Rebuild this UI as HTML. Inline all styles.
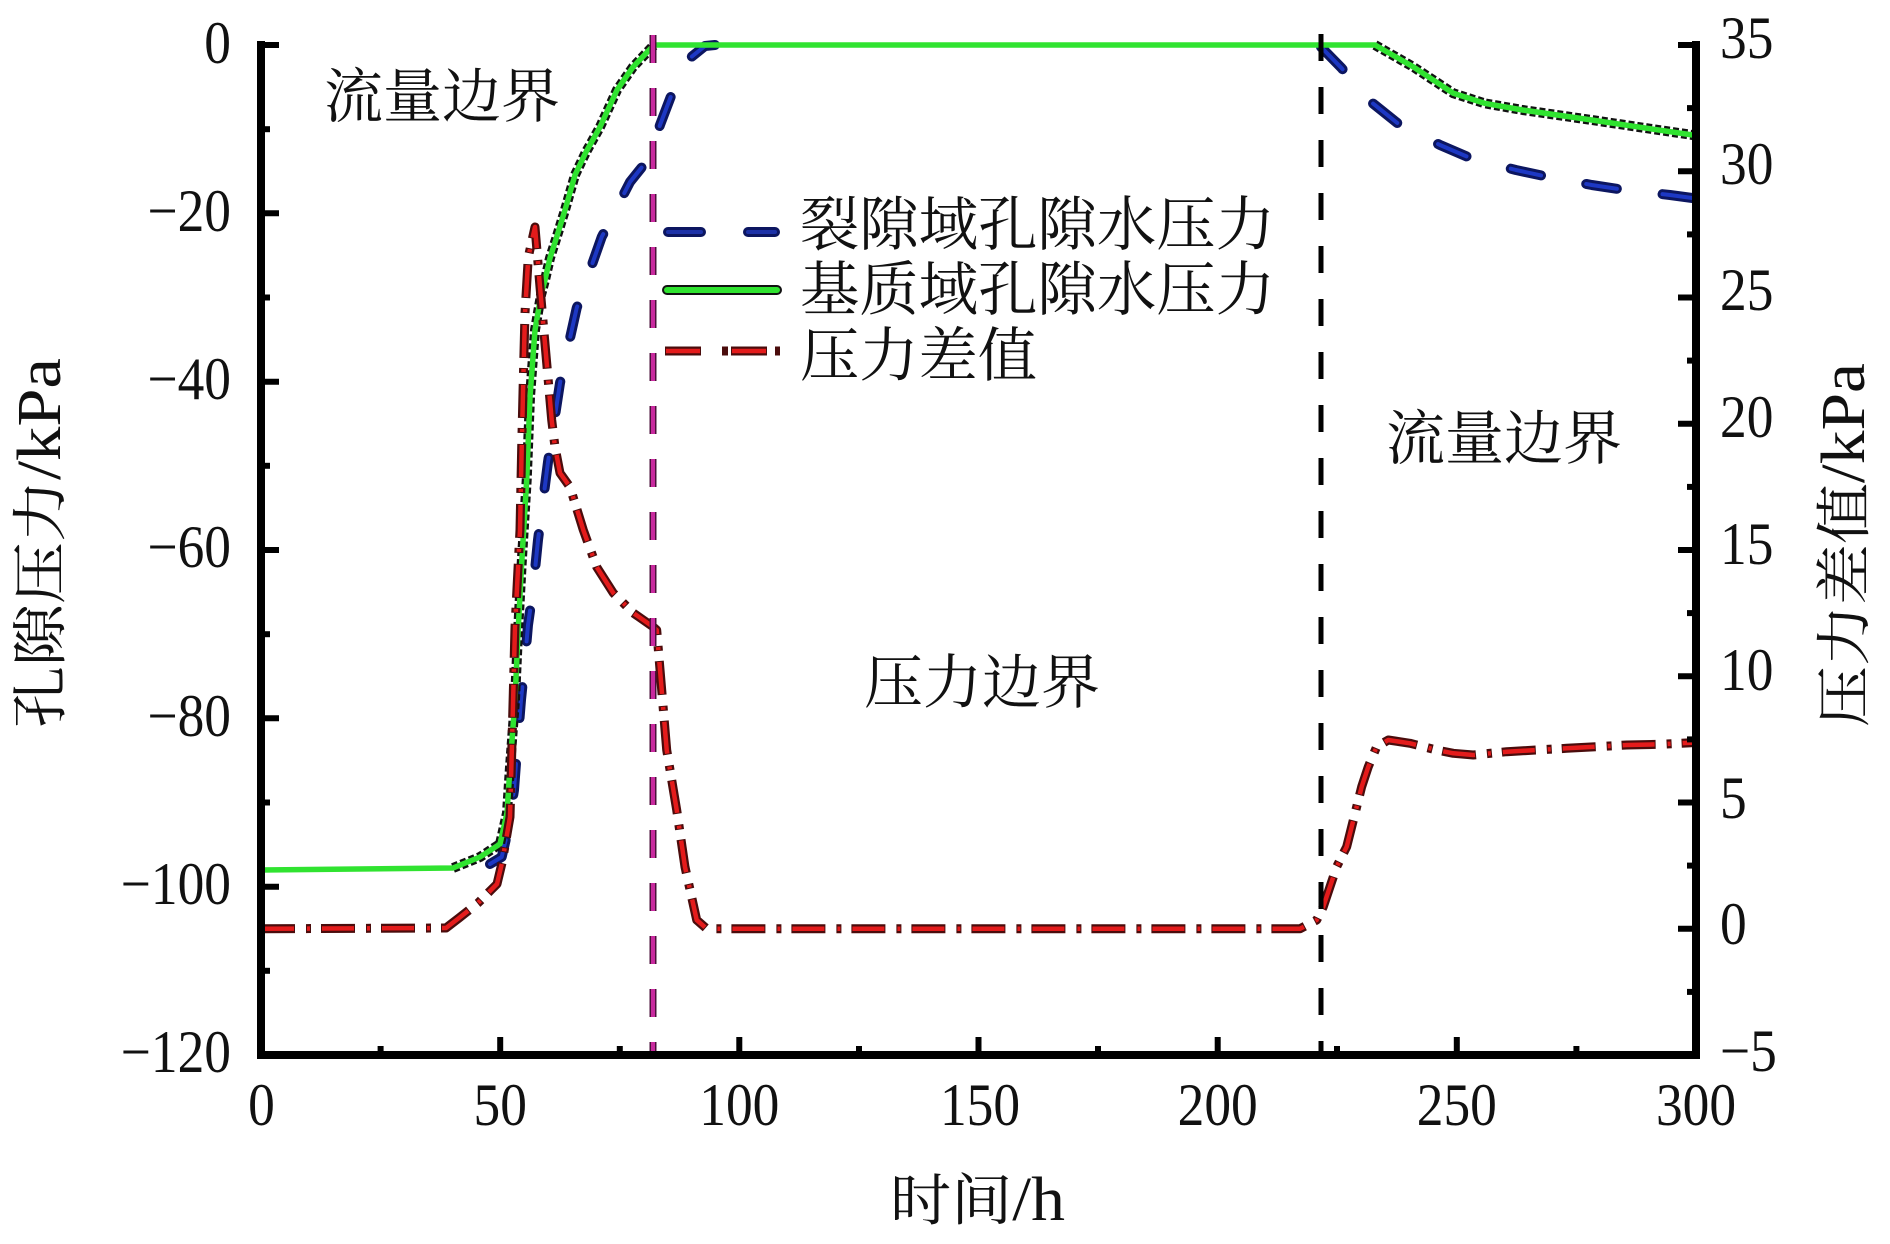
<!DOCTYPE html>
<html>
<head>
<meta charset="utf-8">
<style>
html,body{margin:0;padding:0;background:#fff;}
svg{display:block;}
.num{font-family:"Liberation Serif","Times New Roman",serif;font-size:60px;fill:#111;}
.cjk{font-family:"Liberation Serif","Noto Serif CJK SC","Noto Sans CJK SC",serif;fill:#111;}
</style>
</head>
<body>
<svg width="1890" height="1244" viewBox="0 0 1890 1244" xmlns="http://www.w3.org/2000/svg">
<rect x="0" y="0" width="1890" height="1244" fill="#fff"/>

<!-- Blue series (fracture) -->
<g fill="none" stroke-linecap="round" stroke-linejoin="round">
  <path d="M490,864 L501.7,857 L508,830 L514,790 L517,750 L521,700 L525,660 L528,625 L533,590 L538,540 L548,462 L560,383 L576.7,308 L601.7,237 L630,182 L650,157 L660,125 L676,83 L690,58 L705,46 L715,45" stroke="#0c1660" stroke-width="10" stroke-dasharray="31 46"/>
  <path d="M490,864 L501.7,857 L508,830 L514,790 L517,750 L521,700 L525,660 L528,625 L533,590 L538,540 L548,462 L560,383 L576.7,308 L601.7,237 L630,182 L650,157 L660,125 L676,83 L690,58 L705,46 L715,45" stroke="#1d38c4" stroke-width="4" stroke-dasharray="31 46"/>
  <path d="M1321,47 L1341.8,68.3 L1368.6,100 L1399.8,125 L1440,145 L1471,158.3 L1515.9,170 L1547,176.7 L1591.8,185 L1625,190 L1670,195 L1696,198.5" stroke="#0c1660" stroke-width="10" stroke-dasharray="31 46"/>
  <path d="M1321,47 L1341.8,68.3 L1368.6,100 L1399.8,125 L1440,145 L1471,158.3 L1515.9,170 L1547,176.7 L1591.8,185 L1625,190 L1670,195 L1696,198.5" stroke="#1d38c4" stroke-width="4" stroke-dasharray="31 46"/>
</g>

<!-- Green series (matrix) -->
<g fill="none" stroke-linejoin="round">
  <path d="M453,868 L480,857 L500,844 L507,813 L510,767 L515,700 L518,633 L521.7,563 L526.7,480 L530,397 L535,330 L541,295 L545,280 L550,258 L557,236 L565,210 L575,175 L586,152 L600,127 L617,90 L633,67 L653,46 L655,45" stroke="#111" stroke-width="10" stroke-dasharray="6 3"/>
  <path d="M1375,45 L1413,66.7 L1453.4,93.3 L1484.6,103.3 L1522.6,110 L1591.8,120 L1636.4,126.7 L1696,135.5" stroke="#111" stroke-width="10" stroke-dasharray="6 3"/>
  <path d="M261,870 L453,868 L480,857 L500,844 L507,813 L510,767 L515,700 L518,633 L521.7,563 L526.7,480 L530,397 L535,330 L541,295 L545,280 L550,258 L557,236 L565,210 L575,175 L586,152 L600,127 L617,90 L633,67 L653,46 L655,45 L1375,45 L1413,66.7 L1453.4,93.3 L1484.6,103.3 L1522.6,110 L1591.8,120 L1636.4,126.7 L1696,135.5" stroke="#30e330" stroke-width="5.5"/>
</g>

<!-- Red series (difference) -->
<g fill="none" stroke-linejoin="round">
  <path d="M261,928.75 L446,928 L459,918 L478,903 L491,890 L497,884 L502,863 L510,817 L512,743 L513.3,693 L515,627 L520,530 L521.7,447 L523.3,380 L525,313 L528.3,257 L535,227 L540,287 L546.7,363 L551.7,420 L555,447 L560,473 L570,487 L583.3,530 L596.7,567 L613.3,593 L633.3,613 L653.3,627 L656.7,630 L661.7,690 L666.7,750 L676.7,810 L685,867 L696.7,920 L706.7,928.75 L1300,928.75 L1316.7,920 L1323.3,906.7 L1336.7,866.7 L1346.7,846.7 L1356.7,806.7 L1361.7,786.7 L1368.3,766.7 L1376.7,746.7 L1388.3,740 L1410,743.3 L1436.7,750 L1453.3,753.3 L1473.3,755 L1506.7,751.7 L1536.7,750 L1566.7,748.3 L1596.7,746.7 L1626.7,745 L1660,744.3 L1696,742.5" stroke="#4a0c0c" stroke-width="9" stroke-dasharray="34 11 5 10"/>
  <path d="M261,928.75 L446,928 L459,918 L478,903 L491,890 L497,884 L502,863 L510,817 L512,743 L513.3,693 L515,627 L520,530 L521.7,447 L523.3,380 L525,313 L528.3,257 L535,227 L540,287 L546.7,363 L551.7,420 L555,447 L560,473 L570,487 L583.3,530 L596.7,567 L613.3,593 L633.3,613 L653.3,627 L656.7,630 L661.7,690 L666.7,750 L676.7,810 L685,867 L696.7,920 L706.7,928.75 L1300,928.75 L1316.7,920 L1323.3,906.7 L1336.7,866.7 L1346.7,846.7 L1356.7,806.7 L1361.7,786.7 L1368.3,766.7 L1376.7,746.7 L1388.3,740 L1410,743.3 L1436.7,750 L1453.3,753.3 L1473.3,755 L1506.7,751.7 L1536.7,750 L1566.7,748.3 L1596.7,746.7 L1626.7,745 L1660,744.3 L1696,742.5" stroke="#e41b1b" stroke-width="4.5" stroke-dasharray="32 13 3 12" stroke-dashoffset="-1"/>
</g>

<!-- Vertical boundary lines -->
<line x1="653" y1="35" x2="653" y2="1054" stroke="#4a0f3a" stroke-width="7" stroke-dasharray="28 25"/>
<line x1="653" y1="35" x2="653" y2="1054" stroke="#c82a9e" stroke-width="4" stroke-dasharray="28 25"/>
<line x1="1321" y1="34" x2="1321" y2="1054" stroke="#000" stroke-width="5" stroke-dasharray="27 26"/>

<!-- Axes -->
<g stroke="#000" fill="none">
  <line x1="261" y1="41" x2="261" y2="1059" stroke-width="8"/>
  <line x1="1696" y1="41" x2="1696" y2="1059" stroke-width="8"/>
  <line x1="257" y1="1055" x2="1700" y2="1055" stroke-width="8"/>
  <g stroke-width="6">
    <line x1="261" y1="45" x2="279" y2="45"/>
    <line x1="261" y1="213.3" x2="279" y2="213.3"/>
    <line x1="261" y1="381.7" x2="279" y2="381.7"/>
    <line x1="261" y1="550" x2="279" y2="550"/>
    <line x1="261" y1="718.3" x2="279" y2="718.3"/>
    <line x1="261" y1="886.7" x2="279" y2="886.7"/>
    <line x1="261" y1="129.2" x2="270" y2="129.2"/>
    <line x1="261" y1="297.5" x2="270" y2="297.5"/>
    <line x1="261" y1="465.8" x2="270" y2="465.8"/>
    <line x1="261" y1="634.2" x2="270" y2="634.2"/>
    <line x1="261" y1="802.5" x2="270" y2="802.5"/>
    <line x1="261" y1="970.8" x2="270" y2="970.8"/>
  </g>
  <g stroke-width="6">
    <line x1="1696" y1="45" x2="1678" y2="45"/>
    <line x1="1696" y1="171.25" x2="1678" y2="171.25"/>
    <line x1="1696" y1="297.5" x2="1678" y2="297.5"/>
    <line x1="1696" y1="423.75" x2="1678" y2="423.75"/>
    <line x1="1696" y1="550" x2="1678" y2="550"/>
    <line x1="1696" y1="676.25" x2="1678" y2="676.25"/>
    <line x1="1696" y1="802.5" x2="1678" y2="802.5"/>
    <line x1="1696" y1="928.75" x2="1678" y2="928.75"/>
    <line x1="1696" y1="108.1" x2="1687" y2="108.1"/>
    <line x1="1696" y1="234.4" x2="1687" y2="234.4"/>
    <line x1="1696" y1="360.6" x2="1687" y2="360.6"/>
    <line x1="1696" y1="486.9" x2="1687" y2="486.9"/>
    <line x1="1696" y1="613.1" x2="1687" y2="613.1"/>
    <line x1="1696" y1="739.4" x2="1687" y2="739.4"/>
    <line x1="1696" y1="865.6" x2="1687" y2="865.6"/>
    <line x1="1696" y1="991.9" x2="1687" y2="991.9"/>
  </g>
  <g stroke-width="6">
    <line x1="500.2" y1="1055" x2="500.2" y2="1037"/>
    <line x1="739.3" y1="1055" x2="739.3" y2="1037"/>
    <line x1="978.5" y1="1055" x2="978.5" y2="1037"/>
    <line x1="1217.7" y1="1055" x2="1217.7" y2="1037"/>
    <line x1="1456.8" y1="1055" x2="1456.8" y2="1037"/>
    <line x1="380.6" y1="1055" x2="380.6" y2="1046"/>
    <line x1="619.8" y1="1055" x2="619.8" y2="1046"/>
    <line x1="859" y1="1055" x2="859" y2="1046"/>
    <line x1="1098" y1="1055" x2="1098" y2="1046"/>
    <line x1="1337" y1="1055" x2="1337" y2="1046"/>
    <line x1="1576.4" y1="1055" x2="1576.4" y2="1046"/>
  </g>
</g>

<!-- Left tick labels -->
<g class="num" text-anchor="end">
  <g transform="translate(231,63) scale(0.89,1)"><text x="0" y="0">0</text></g>
  <g transform="translate(231,231) scale(0.89,1)"><text x="0" y="0">−20</text></g>
  <g transform="translate(231,399) scale(0.89,1)"><text x="0" y="0">−40</text></g>
  <g transform="translate(231,567) scale(0.89,1)"><text x="0" y="0">−60</text></g>
  <g transform="translate(231,736) scale(0.89,1)"><text x="0" y="0">−80</text></g>
  <g transform="translate(231,904) scale(0.89,1)"><text x="0" y="0">−100</text></g>
  <g transform="translate(231,1072) scale(0.89,1)"><text x="0" y="0">−120</text></g>
</g>

<!-- Right tick labels -->
<g class="num" text-anchor="start">
  <g transform="translate(1720,58) scale(0.89,1)"><text x="0" y="0">35</text></g>
  <g transform="translate(1720,184) scale(0.89,1)"><text x="0" y="0">30</text></g>
  <g transform="translate(1720,310) scale(0.89,1)"><text x="0" y="0">25</text></g>
  <g transform="translate(1720,437) scale(0.89,1)"><text x="0" y="0">20</text></g>
  <g transform="translate(1720,564) scale(0.89,1)"><text x="0" y="0">15</text></g>
  <g transform="translate(1720,690) scale(0.89,1)"><text x="0" y="0">10</text></g>
  <g transform="translate(1720,818) scale(0.89,1)"><text x="0" y="0">5</text></g>
  <g transform="translate(1720,944) scale(0.89,1)"><text x="0" y="0">0</text></g>
  <g transform="translate(1720,1071) scale(0.89,1)"><text x="0" y="0">−5</text></g>
</g>

<!-- Bottom tick labels -->
<g class="num" text-anchor="middle">
  <g transform="translate(261.5,1125) scale(0.89,1)"><text x="0" y="0">0</text></g>
  <g transform="translate(500.2,1125) scale(0.89,1)"><text x="0" y="0">50</text></g>
  <g transform="translate(739.3,1125) scale(0.89,1)"><text x="0" y="0">100</text></g>
  <g transform="translate(980,1125) scale(0.89,1)"><text x="0" y="0">150</text></g>
  <g transform="translate(1217.7,1125) scale(0.89,1)"><text x="0" y="0">200</text></g>
  <g transform="translate(1456.8,1125) scale(0.89,1)"><text x="0" y="0">250</text></g>
  <g transform="translate(1696,1125) scale(0.89,1)"><text x="0" y="0">300</text></g>
</g>

<!-- Axis titles -->
<text class="cjk" x="890" y="1220" textLength="175" lengthAdjust="spacingAndGlyphs"><tspan font-size="56">时间</tspan><tspan font-size="62" font-family="Liberation Serif, serif">/h</tspan></text>
<text class="cjk" transform="translate(60,728) rotate(-90)" x="0" y="0" textLength="370" lengthAdjust="spacingAndGlyphs"><tspan font-size="56">孔隙压力</tspan><tspan font-size="62" font-family="Liberation Serif, serif">/kPa</tspan></text>
<text class="cjk" transform="translate(1864,727) rotate(-90)" x="0" y="0" textLength="364" lengthAdjust="spacingAndGlyphs"><tspan font-size="56">压力差值</tspan><tspan font-size="62" font-family="Liberation Serif, serif">/kPa</tspan></text>

<!-- Annotations -->
<text class="cjk" font-size="59" x="324" y="117" textLength="236" lengthAdjust="spacingAndGlyphs">流量边界</text>
<text class="cjk" font-size="59" x="1386" y="459" textLength="236" lengthAdjust="spacingAndGlyphs">流量边界</text>
<text class="cjk" font-size="59" x="864" y="703" textLength="236" lengthAdjust="spacingAndGlyphs">压力边界</text>

<!-- Legend -->
<g stroke-linecap="round">
  <line x1="668" y1="232" x2="701" y2="232" stroke="#0c1660" stroke-width="10"/>
  <line x1="748" y1="232" x2="775" y2="232" stroke="#0c1660" stroke-width="10"/>
  <line x1="668" y1="232" x2="701" y2="232" stroke="#1d32a8" stroke-width="4"/>
  <line x1="748" y1="232" x2="775" y2="232" stroke="#1d32a8" stroke-width="4"/>
  <line x1="667" y1="290" x2="777" y2="290" stroke="#111" stroke-width="10"/>
  <line x1="667" y1="290" x2="777" y2="290" stroke="#30e330" stroke-width="6"/>
</g>
<g stroke-linecap="butt">
  <line x1="665" y1="351" x2="701" y2="351" stroke="#4a0c0c" stroke-width="9"/>
  <line x1="722" y1="351" x2="728" y2="351" stroke="#4a0c0c" stroke-width="9"/>
  <line x1="731" y1="351" x2="767" y2="351" stroke="#4a0c0c" stroke-width="9"/>
  <line x1="775" y1="351" x2="780" y2="351" stroke="#4a0c0c" stroke-width="9"/>
  <line x1="666" y1="351" x2="700" y2="351" stroke="#e41b1b" stroke-width="4.5"/>
  <line x1="732" y1="351" x2="766" y2="351" stroke="#e41b1b" stroke-width="4.5"/>
</g>
<text class="cjk" font-size="59" x="800" y="245" textLength="475" lengthAdjust="spacingAndGlyphs">裂隙域孔隙水压力</text>
<text class="cjk" font-size="59" x="800" y="310" textLength="475" lengthAdjust="spacingAndGlyphs">基质域孔隙水压力</text>
<text class="cjk" font-size="59" x="800" y="376" textLength="237" lengthAdjust="spacingAndGlyphs">压力差值</text>
</svg>
</body>
</html>
